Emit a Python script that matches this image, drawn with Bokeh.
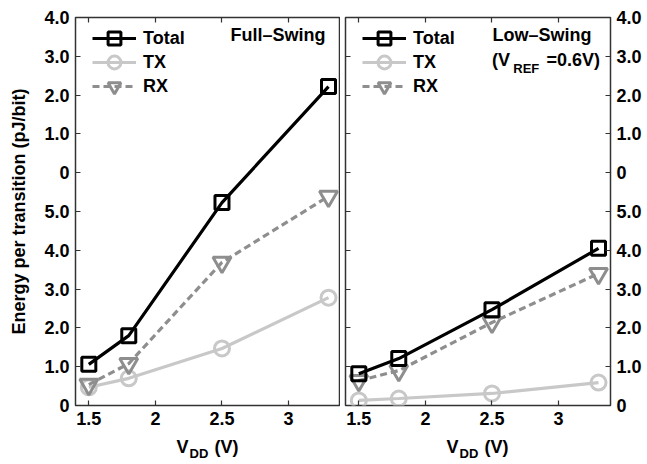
from bokeh.plotting import figure
from bokeh.layouts import row, column
from bokeh.models import LinearAxis, FixedTicker, Range1d, Legend, LegendItem, Label
from bokeh.embed import file_html
from bokeh.resources import INLINE

# ---- data (values as plotted on the axis' position scale) ----
vdd = [1.5, 1.8, 2.5, 3.3]
full_total = [1.06, 1.80, 5.23, 8.22]
full_tx = [0.47, 0.70, 1.47, 2.78]
full_rx = [0.54, 1.08, 3.69, 5.39]
low_total = [0.82, 1.21, 2.47, 4.05]
low_tx = [0.13, 0.18, 0.31, 0.59]
low_rx = [0.64, 0.90, 2.14, 3.40]
series_names = ["Total", "TX", "RX"]
y_ticks = [0, 1, 2, 3, 4, 5, 6, 7, 8, 9, 10]
y_tick_labels = ["0", "1.0", "2.0", "3.0", "4.0", "5.0", "0", "1.0", "2.0", "3.0", "4.0"]
x_ticks = [1.5, 2, 2.5, 3]
x_tick_labels = ["1.5", "2", "2.5", "3"]

FONT = "Liberation Sans"
FS = "18px"
C_TOTAL = "#000000"
C_TX = "#c8c8c8"
C_RX = "#8e8e8e"
FRAME = "#333333"
XR = (1.4, 3.39)


def style_axis(ax, ticks, labels, show_labels=True):
    ax.ticker = FixedTicker(ticks=ticks)
    ax.axis_line_color = None
    ax.major_tick_in = 5
    ax.major_tick_out = 0
    ax.major_tick_line_color = FRAME
    ax.major_tick_line_width = 1.2
    ax.minor_tick_line_color = None
    ax.major_label_text_font = FONT
    ax.major_label_text_font_style = "bold"
    ax.major_label_text_color = "black"
    if show_labels:
        ax.major_label_overrides = {t: l for t, l in zip(ticks, labels)}
        ax.major_label_text_font_size = FS
        ax.major_label_standoff = 6
    else:
        ax.major_label_overrides = {t: "" for t in ticks}
        ax.major_label_text_font_size = "1px"
        ax.major_label_standoff = 0


def add_label(p, x, y, text, size=FS, align="left"):
    p.add_layout(Label(x=x, y=y, text=text, text_font=FONT, text_font_style="bold",
                       text_font_size=size, text_align=align, text_baseline="middle",
                       text_color="black"))


def make_panel(total, tx, rx, left_panel):
    p = figure(frame_width=265, frame_height=388,
               x_range=Range1d(*XR), y_range=Range1d(0, 10),
               output_backend="svg", toolbar_location=None,
               x_axis_location=None, y_axis_location=None,
               min_border_top=17, min_border_bottom=26,
               min_border_left=75 if left_panel else 5,
               min_border_right=0 if left_panel else 37)
    p.xgrid.visible = False
    p.ygrid.visible = False
    p.outline_line_color = FRAME
    p.outline_line_width = 1.5
    p.background_fill_color = "white"
    p.border_fill_color = "white"

    bx = LinearAxis()
    style_axis(bx, x_ticks, x_tick_labels, True)
    p.add_layout(bx, "below")
    tx_ax = LinearAxis()
    style_axis(tx_ax, x_ticks, x_tick_labels, False)
    p.add_layout(tx_ax, "above")

    if left_panel:
        ly = LinearAxis(axis_label="Energy per transition (pJ/bit)")
        style_axis(ly, y_ticks, y_tick_labels, True)
        ly.axis_label_text_font = FONT
        ly.axis_label_text_font_style = "bold"
        ly.axis_label_text_font_size = FS
        ly.axis_label_text_color = "black"
        ly.axis_label_standoff = 12
        p.add_layout(ly, "left")
    else:
        ly = LinearAxis()
        style_axis(ly, y_ticks, y_tick_labels, False)
        p.add_layout(ly, "left")
        ry = LinearAxis()
        style_axis(ry, y_ticks, y_tick_labels, True)
        p.add_layout(ry, "right")

    l_tx = p.line(vdd, tx, line_color=C_TX, line_width=3.2)
    s_tx = p.scatter(vdd, tx, marker="circle", size=15, line_color=C_TX,
                     line_width=3, fill_color=None)
    l_rx = p.line(vdd, rx, line_color=C_RX, line_width=3.2, line_dash="7 4")
    s_rx = p.scatter(vdd, rx, marker="inverted_triangle", size=18, line_color=C_RX,
                     line_width=3, fill_color=None)
    l_to = p.line(vdd, total, line_color=C_TOTAL, line_width=3.2)
    s_to = p.scatter(vdd, total, marker="square", size=14, line_color=C_TOTAL,
                     line_width=3, fill_color=None)

    # one single-row legend per series so the rows can sit closer than the glyph height
    entries = [(series_names[0], [l_to, s_to], 351),
               (series_names[1], [l_tx, s_tx], 327),
               (series_names[2], [l_rx, s_rx], 303)]
    for name, rends, ypos in entries:
        lg = Legend(items=[LegendItem(label=name, renderers=rends)],
                    location=(17, ypos), border_line_color=None, background_fill_alpha=0,
                    padding=0, margin=0, spacing=0, glyph_width=44, glyph_height=32,
                    label_height=20, label_standoff=7, label_text_font=FONT,
                    label_text_font_style="bold", label_text_font_size=FS,
                    label_text_color="black")
        p.add_layout(lg)

    if left_panel:
        add_label(p, 3.277, 9.54, "Full–Swing", align="right")
    else:
        add_label(p, 2.875, 9.54, "Low–Swing", align="center")
        add_label(p, 2.50, 8.90, "(V")
        add_label(p, 2.66, 8.68, "REF", size="13px")
        add_label(p, 2.91, 8.90, "=0.6V)")
    return p


def make_xlabel_strip(left_panel):
    # a blank strip under each panel, sharing its x scale, that holds the V_DD (V) label
    q = figure(frame_width=265, frame_height=33,
               x_range=Range1d(*XR), y_range=Range1d(0, 33),
               output_backend="svg", toolbar_location=None,
               x_axis_location=None, y_axis_location=None,
               min_border_top=0, min_border_bottom=0,
               min_border_left=75 if left_panel else 5,
               min_border_right=0 if left_panel else 37)
    q.xgrid.visible = False
    q.ygrid.visible = False
    q.outline_line_color = None
    add_label(q, 2.158, 18, "V")
    add_label(q, 2.256, 11.5, "DD", size="13px")
    add_label(q, 2.443, 18, "(V)")
    return q


p1 = make_panel(full_total, full_tx, full_rx, True)
p2 = make_panel(low_total, low_tx, low_rx, False)
q1 = make_xlabel_strip(True)
q2 = make_xlabel_strip(False)
layout = column(row(p1, p2, spacing=0), row(q1, q2, spacing=0), spacing=0)

open("out.html", "w").write(file_html(layout, INLINE))
